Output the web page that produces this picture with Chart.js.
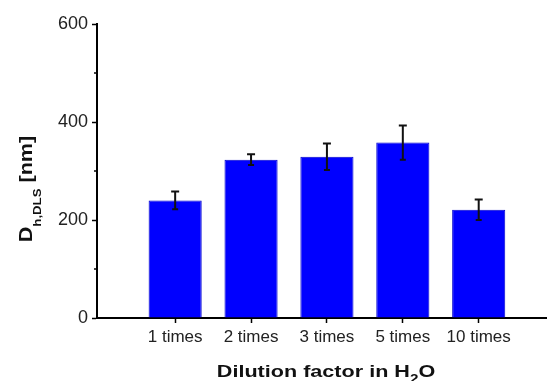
<!DOCTYPE html>
<html>
<head>
<meta charset="utf-8">
<script src="https://cdn.jsdelivr.net/npm/chart.js@4"></script>
<style>
  html, body { margin: 0; padding: 0; background: #fff; }
  #wrap { width: 547px; height: 381px; }
</style>
</head>
<body>
<div id="wrap"><canvas id="dlsChart"></canvas></div>
<script>
// Data
const categories = ['1 times', '2 times', '3 times', '5 times', '10 times'];
const sizes = [240, 323, 329, 358, 221];     // D h,DLS in nm
const sizeErrors = [18, 11, 27, 35, 21];     // error bar half-length
const yTicks = [0, 200, 400, 600];
const yMinorTicks = [100, 300, 500];

const FONT = '"Liberation Sans", Arial, sans-serif';

// draws a run of [text, font, baselineShift] pieces starting at x
function drawRuns(ctx, runs, x, y) {
    runs.forEach(r => {
        ctx.font = r[1];
        ctx.fillText(r[0], x, y + r[2]);
        x += ctx.measureText(r[0]).width;
    });
}
function runsWidth(ctx, runs) {
    let w = 0;
    runs.forEach(r => { ctx.font = r[1]; w += ctx.measureText(r[0]).width; });
    return w;
}

// error bars + minor ticks + axis titles with subscripts
const extrasPlugin = {
    id: 'extras',
    afterDatasetsDraw(chart) {
        const ctx = chart.ctx;
        const y = chart.scales.y;
        const meta = chart.getDatasetMeta(0);
        ctx.save();
        ctx.strokeStyle = '#111';
        ctx.lineWidth = 2;
        meta.data.forEach((bar, i) => {
            const top = y.getPixelForValue(sizes[i] + sizeErrors[i]);
            const bot = y.getPixelForValue(sizes[i] - sizeErrors[i]);
            ctx.beginPath();
            ctx.moveTo(bar.x, top);
            ctx.lineTo(bar.x, bot);
            ctx.moveTo(bar.x - 4, top);
            ctx.lineTo(bar.x + 4, top);
            ctx.moveTo(bar.x - 3, bot);
            ctx.lineTo(bar.x + 3, bot);
            ctx.stroke();
        });
        ctx.restore();
    },
    afterDraw(chart) {
        const ctx = chart.ctx;
        const y = chart.scales.y;
        const area = chart.chartArea;
        ctx.save();
        // minor ticks
        ctx.strokeStyle = '#000';
        ctx.lineWidth = 1.5;
        yMinorTicks.forEach(v => {
            const py = y.getPixelForValue(v);
            ctx.beginPath();
            ctx.moveTo(area.left - 3, py);
            ctx.lineTo(area.left, py);
            ctx.stroke();
        });
        ctx.fillStyle = '#111';
        ctx.textBaseline = 'alphabetic';
        ctx.textAlign = 'left';

        // x axis title: Dilution factor in H2O (slightly wide, like the source)
        const xb = 'bold 17px ' + FONT;
        const xs = 'bold 12px ' + FONT;
        const xRuns = [['Dilution factor in H', xb, 0], ['2', xs, 6], ['O', xb, 0]];
        ctx.save();
        ctx.translate(326, 377);
        ctx.scale(1.27, 1);
        drawRuns(ctx, xRuns, -runsWidth(ctx, xRuns) / 2, 0);
        ctx.restore();

        // y axis title: D_h,DLS [nm] (stretched along its length, like the source)
        const yb = 'bold 18px ' + FONT;
        const ys = 'bold 11px ' + FONT;
        const yRuns = [['D', yb, 0], ['h,DLS', ys, 9], [' [nm]', yb, 0]];
        ctx.save();
        ctx.translate(32, 189);
        ctx.rotate(-Math.PI / 2);
        ctx.scale(1.2, 1);
        drawRuns(ctx, yRuns, -runsWidth(ctx, yRuns) / 2, 0);
        ctx.restore();
        ctx.restore();
    }
};

new Chart(document.getElementById('dlsChart'), {
    type: 'bar',
    data: {
        datasets: [{
            data: sizes.map((v, i) => ({ x: i + 1, y: v })),
            backgroundColor: '#0000ff',
            borderColor: '#0000cc',
            borderWidth: 1,
            categoryPercentage: 1,
            barPercentage: 0.7
        }]
    },
    options: {
        responsive: true,
        maintainAspectRatio: false,
        animation: false,
        layout: { padding: { top: 24, right: 0, left: 0, bottom: 0 } },
        plugins: {
            legend: { display: false },
            tooltip: { enabled: false }
        },
        scales: {
            x: {
                type: 'linear',
                offset: false,
                min: -0.03,
                max: 5.9,
                afterBuildTicks(scale) {
                    scale.ticks = categories.map((c, i) => ({ value: i + 1 }));
                },
                afterFit(scale) { scale.height = 63; },
                ticks: {
                    callback: v => categories[v - 1] || '',
                    color: '#222',
                    font: { family: FONT, size: 17 },
                    padding: 4,
                    maxRotation: 0,
                    autoSkip: false
                },
                grid: {
                    offset: false,
                    drawOnChartArea: false,
                    tickLength: 5,
                    tickColor: '#000',
                    tickWidth: 1.5
                },
                border: { color: '#000', width: 2 },
                title: { display: false }
            },
            y: {
                min: 0,
                max: 600,
                afterBuildTicks(scale) {
                    scale.ticks = yTicks.map(v => ({ value: v }));
                },
                afterFit(scale) { scale.width = 97; },
                ticks: {
                    color: '#222',
                    font: { family: FONT, size: 18 },
                    padding: 4
                },
                grid: {
                    drawOnChartArea: false,
                    tickLength: 5,
                    tickColor: '#000',
                    tickWidth: 1.5
                },
                border: { color: '#000', width: 2 }
            }
        }
    },
    plugins: [extrasPlugin]
});
</script>
</body>
</html>
